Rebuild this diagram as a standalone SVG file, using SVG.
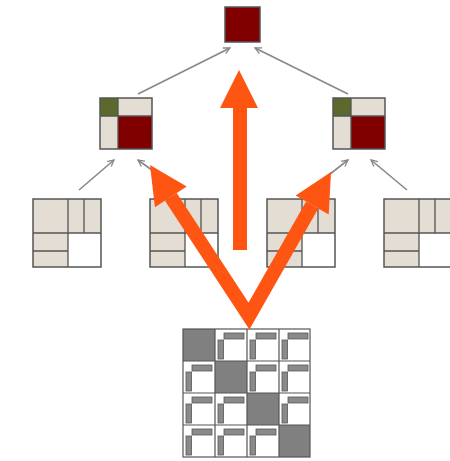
<svg xmlns="http://www.w3.org/2000/svg" width="450" height="461" viewBox="0 0 450 461">
  <style>
    .frame { stroke: #555; stroke-width: 1.5; }
    .beige { fill: #e3ddd3; }
    .red { fill: #800000; }
    .olive { fill: #5b6a2c; }
    .white { fill: #ffffff; }
    .div { stroke: #555; stroke-width: 1.3; fill: none; }
    .edge { stroke: #888; stroke-width: 1.6; fill: none; marker-end: url(#chev); }
    .big { fill: #ff5512; }
    .bigline { stroke: #ff5512; stroke-width: 14; fill: none; stroke-linejoin: miter; }
    .grid { stroke: #555; stroke-width: 1.2; fill: none; }
    .diag { fill: #808080; }
    .bar { fill: #8a8a8a; stroke: #555; stroke-width: 0.8; }
  </style>
  <defs>
    <marker id="chev" viewBox="0 0 10 10" refX="9" refY="5" markerWidth="5" markerHeight="5" orient="auto" markerUnits="strokeWidth">
      <path d="M1,1 L9,5 L1,9" fill="none" stroke="#888" stroke-width="1.6"/>
    </marker>
    <!-- bottom-level block: beige pieces, empty lower-right quadrant -->
    <g id="leafBlock">
      <rect x="0" y="0" width="68" height="68" class="beige"/>
      <rect x="35" y="34" width="33" height="34" class="white"/>
      <path class="div" d="M35,0 V68 M51,0 V34 M0,34 H68 M0,52 H35"/>
      <rect x="0" y="0" width="68" height="68" fill="none" class="frame"/>
    </g>
    <!-- middle-level block -->
    <g id="midBlock">
      <rect x="0" y="0" width="52" height="51" class="beige"/>
      <rect x="0" y="0" width="18" height="18" class="olive"/>
      <rect x="18" y="18" width="34" height="33" class="red"/>
      <path class="div" d="M18,0 V51 M0,18 H52"/>
      <rect x="0" y="0" width="52" height="51" fill="none" class="frame"/>
    </g>
    <!-- off-diagonal matrix cell with bracket bars -->
    <g id="bracket">
      <rect x="9" y="4" width="20" height="6" class="bar"/>
      <rect x="3" y="11" width="5.5" height="19" class="bar"/>
    </g>
  </defs>

  <!-- connectors -->
  <g id="connectors">
    <line class="edge" x1="138" y1="94" x2="230" y2="48"/>
    <line class="edge" x1="348" y1="94" x2="255" y2="48"/>
    <line class="edge" x1="79" y1="190" x2="114" y2="160"/>
    <line class="edge" x1="160" y1="176" x2="138" y2="160"/>
    <line class="edge" x1="325" y1="178" x2="348" y2="160"/>
    <line class="edge" x1="407" y1="190" x2="371" y2="160"/>
  </g>

  <g id="root">
    <rect x="225" y="7" width="35" height="35" class="red frame"/>
  </g>

  <g id="mid-left"><use href="#midBlock" x="100" y="98"/></g>
  <g id="mid-right"><use href="#midBlock" x="333" y="98"/></g>

  <g id="leaf-1"><use href="#leafBlock" x="33" y="199"/></g>
  <g id="leaf-2"><use href="#leafBlock" x="150" y="199"/></g>
  <g id="leaf-3"><use href="#leafBlock" x="267" y="199"/></g>
  <g id="leaf-4"><use href="#leafBlock" x="384" y="199"/></g>

  <!-- 4x4 matrix -->
  <g id="matrix">
    <rect x="183" y="329" width="127" height="128" fill="#fff"/>
    <rect x="183" y="329" width="32" height="32" class="diag"/>
    <rect x="215" y="361" width="32" height="32" class="diag"/>
    <rect x="247" y="393" width="32" height="32" class="diag"/>
    <rect x="279" y="425" width="31" height="32" class="diag"/>
    <use href="#bracket" x="215" y="329"/>
    <use href="#bracket" x="247" y="329"/>
    <use href="#bracket" x="279" y="329"/>
    <use href="#bracket" x="183" y="361"/>
    <use href="#bracket" x="247" y="361"/>
    <use href="#bracket" x="279" y="361"/>
    <use href="#bracket" x="183" y="393"/>
    <use href="#bracket" x="215" y="393"/>
    <use href="#bracket" x="279" y="393"/>
    <use href="#bracket" x="183" y="425"/>
    <use href="#bracket" x="215" y="425"/>
    <use href="#bracket" x="247" y="425"/>
    <path class="grid" d="M215,329 V457 M247,329 V457 M279,329 V457 M183,361 H310 M183,393 H310 M183,425 H310"/>
    <rect x="183" y="329" width="127" height="128" class="grid"/>
  </g>

  <!-- large orange arrows -->
  <g id="flow">
    <rect x="233" y="107" width="14" height="143" class="big"/>
    <polygon points="239,70 220,108 258,108" class="big"/>
    <path class="bigline" d="M170.8,196.8 L249,316 L312.2,205"/>
    <polygon points="150,165 186.7,186.4 154.9,207.2" class="big"/>
    <polygon points="331,172 328.7,214.4 295.7,195.6" class="big"/>
  </g>
</svg>
